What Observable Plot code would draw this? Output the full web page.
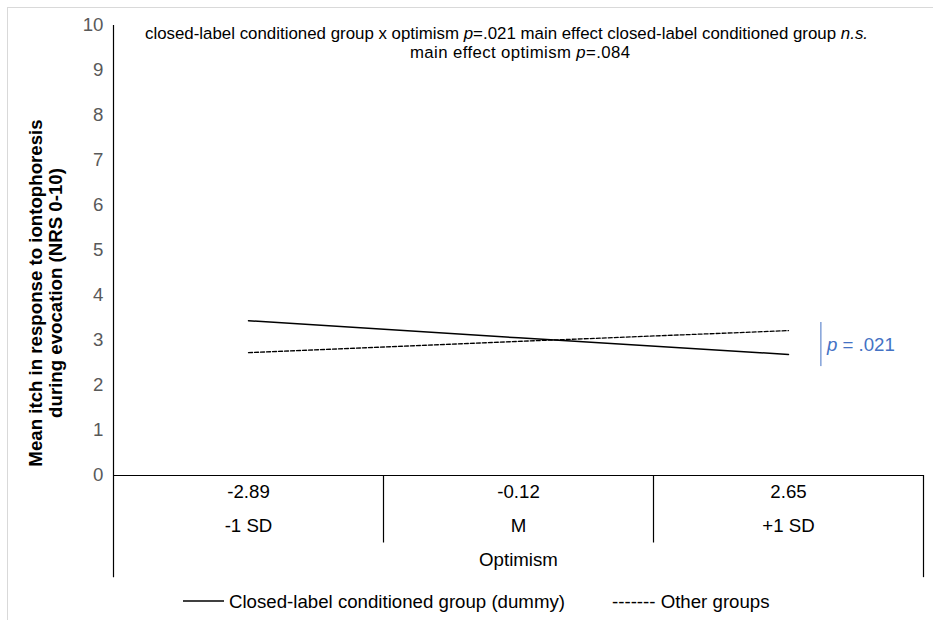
<!DOCTYPE html>
<html>
<head>
<meta charset="utf-8">
<script src="https://cdn.jsdelivr.net/npm/d3@7"></script>
<script src="https://cdn.jsdelivr.net/npm/@observablehq/plot@0.6"></script>
<style>
  html, body { margin: 0; padding: 0; background: #fff; }
  #wrap { position: relative; width: 933px; height: 620px; overflow: hidden; background: #fff;
          font-family: "Liberation Sans", Arial, sans-serif; }
  #border { position: absolute; left: 7px; top: 7px; width: 1200px; height: 1200px;
            border-left: 1px solid #d9d9d9; border-top: 1px solid #d9d9d9; }
  #chart { position: absolute; left: 0; top: 0; }
  #overlay { position: absolute; left: 0; top: 0; pointer-events: none; }
</style>
</head>
<body>
<div id="wrap"><div id="border"></div><div id="chart"></div><svg id="overlay" width="933" height="620"></svg></div>
<script>
// ---------- data ----------
const categories = ["-1 SD", "M", "+1 SD"];
const optimismValues = ["-2.89", "-0.12", "2.65"];
const seriesNames = ["Closed-label conditioned group (dummy)", "Other groups"];
const closedLabel = [3.44, 3.06, 2.69];
const otherGroups = [2.73, 2.98, 3.22];
const yTicks = [0, 1, 2, 3, 4, 5, 6, 7, 8, 9, 10];
const xTitle = "Optimism";
const yTitle = ["Mean itch in response to iontophoresis", "during evocation (NRS 0-10)"];
const pNote = [{x: 2.62, y1: 2.42, y2: 3.4, ym: 2.91, label: "p = .021"}];

const rows = [];
categories.forEach((c, i) => {
  rows.push({cat: c, series: seriesNames[0], value: closedLabel[i]});
  rows.push({cat: c, series: seriesNames[1], value: otherGroups[i]});
});
const xPos = d => categories.indexOf(d.cat) + 0.5;
const font = "'Liberation Sans', Arial, sans-serif";

const chart = Plot.plot({
  width: 933, height: 620,
  marginLeft: 113, marginRight: 10, marginTop: 25, marginBottom: 145,
  style: {fontFamily: font, fontSize: "18.67px", color: "#595959", background: "transparent", overflow: "visible"},
  x: {domain: [0, categories.length], axis: null},
  y: {domain: [0, 10], ticks: yTicks, tickSize: 0, tickPadding: 10, label: null, tickFormat: d => String(d)},
  marks: [
    Plot.ruleY([0], {stroke: "#000", strokeWidth: 1.2}),
    Plot.ruleX([1, 2], {y1: 0, y2: -1.5, stroke: "#000", strokeWidth: 1.2}),
    Plot.ruleX([0], {y1: 10, y2: -2.27, stroke: "#000", strokeWidth: 1.2}),
    Plot.ruleX([categories.length], {y1: 0, y2: -2.27, stroke: "#000", strokeWidth: 1.2}),
    Plot.line(rows.filter(d => d.series === seriesNames[0]), {x: xPos, y: "value", stroke: "#000", strokeWidth: 1.5}),
    Plot.line(rows.filter(d => d.series === seriesNames[1]), {x: xPos, y: "value", stroke: "#000", strokeWidth: 1.3, strokeDasharray: "4,2"}),
    Plot.text(categories, {x: (d, i) => i + 0.5, text: (d, i) => optimismValues[i], frameAnchor: "bottom", dy: 22, fill: "#000", fontSize: 18.67}),
    Plot.text(categories, {x: (d, i) => i + 0.5, text: d => d, frameAnchor: "bottom", dy: 56, fill: "#000", fontSize: 18.67}),
    Plot.text([xTitle], {x: categories.length / 2, text: d => d, frameAnchor: "bottom", dy: 90, fill: "#000", fontSize: 18.67}),
    Plot.ruleX(pNote, {x: "x", y1: "y1", y2: "y2", stroke: "#4472C4", strokeWidth: 1}),
    Plot.text(pNote, {x: "x", y: "ym", text: "label", textAnchor: "start", dx: 6, fill: "#4472C4", fontSize: 18.67})
  ]
});
document.getElementById("chart").appendChild(chart);

// italic p in annotation
d3.select(chart).selectAll("text")
  .filter(function() { return this.textContent === pNote[0].label; })
  .each(function() {
    const t = d3.select(this);
    const rest = pNote[0].label.slice(1);
    t.text(null);
    t.append("tspan").attr("font-style", "italic").text("p");
    t.append("tspan").text(rest);
  });

// ---------- overlay text ----------
const ov = d3.select("#overlay").attr("font-family", font);

// title
const t1 = ov.append("text").attr("x", 145).attr("y", 39).attr("font-size", 16.75).attr("fill", "#000")
  .attr("textLength", 723).attr("lengthAdjust", "spacingAndGlyphs");
t1.append("tspan").text("closed-label conditioned group x optimism ");
t1.append("tspan").attr("font-style", "italic").text("p");
t1.append("tspan").text("=.021 main effect closed-label conditioned group ");
t1.append("tspan").attr("font-style", "italic").text("n.s.");
const t2 = ov.append("text").attr("x", 410).attr("y", 58).attr("font-size", 16.75).attr("fill", "#000")
  .attr("textLength", 220).attr("lengthAdjust", "spacing");
t2.append("tspan").text("main effect optimism  ");
t2.append("tspan").attr("font-style", "italic").text("p");
t2.append("tspan").text("=.084");

// y title
yTitle.forEach((s, i) => {
  ov.append("text").attr("transform", `translate(${42 + i * 20},293) rotate(-90)`)
    .attr("text-anchor", "middle").attr("font-size", 18.67).attr("font-weight", "bold").attr("fill", "#000")
    .text(s);
});

// legend
ov.append("line").attr("x1", 183).attr("x2", 224).attr("y1", 601).attr("y2", 601).attr("stroke", "#000").attr("stroke-width", 1.3);
ov.append("text").attr("x", 229).attr("y", 607.5).attr("font-size", 18.67).attr("fill", "#000").text(seriesNames[0]);
ov.append("text").attr("x", 612).attr("y", 607.5).attr("font-size", 18.67).attr("fill", "#000").text("------- " + seriesNames[1]);
</script>
</body>
</html>
